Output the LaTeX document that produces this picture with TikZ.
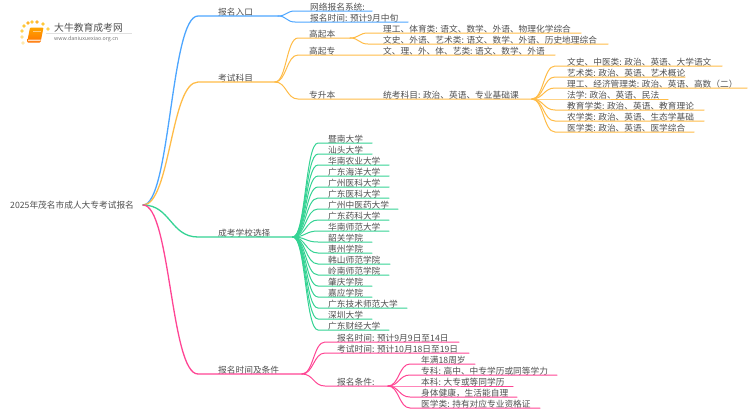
\documentclass[tikz,border=0pt]{standalone}
\usepackage{fontspec}
\setmainfont{Noto Sans CJK SC}
\usetikzlibrary{calc}
\definecolor{cblue}{HTML}{4DA6FF}
\definecolor{corange}{HTML}{FFBC47}
\definecolor{cgreen}{HTML}{35D394}
\definecolor{cpink}{HTML}{FF4594}
\definecolor{ctext}{HTML}{505050}
\tikzset{
  lbl/.style={anchor=west,inner sep=0pt,text=ctext,font=\fontsize{8.7}{10}\selectfont},
  conn/.style={line width=1pt,line cap=round},
  mainconn/.style={line width=1.3pt,line cap=round},
  logodot/.style={circle,fill=#1,inner sep=0pt,minimum size=3.8pt}
}
% #1 name, #2 parent, #3 flat x, #4 y, #5 end x, #6 text x, #7 text, #8 style
\newcommand{\lf}[8]{%
  \coordinate (#1s) at (#3,#4);
  \coordinate (#1e) at (#5,#4);
  \node[lbl] (#1) at (#6,#4-3.4) {#7};
  \draw[#8] (#2) .. controls ($(#2)!0.5!(#1s |- #2)$) and ($(#1s)!0.5!(#2 |- #1s)$) .. (#1s) -- (#1e);
}
\begin{document}
\begin{tikzpicture}[x=1pt,y=-1pt]
\useasboundingbox (0,0) rectangle (750,410);
\fill[white] (0,0) rectangle (750,410);
% logo
\foreach \n/\x/\y/\c in {d1/22/31/FFD24D,d2/24/26/FFC93A,d3/28/23/FFB52E,d4/32/22/FFC93A,d5/37/22/FFB52E,d6/43/24/FFC93A,d7/48/29/FFD24D,d8/22/37/FFE08A,d9/23/43/FFE9AE}{
  \definecolor{dotc}{HTML}{\c}
  \node[logodot=dotc] (\n) at (\x,\y) {};
}
\shade[rounded corners=1pt,top color=orange!70!yellow,bottom color=orange!90!red] (30,27.5) -- (43.5,27.5) -- (40.5,42.5) -- (27,42.5) -- cycle;
\fill[white,opacity=.75] (28.3,39.7) -- (40.8,39.7) -- (40.4,41.2) -- (28,41.2) -- cycle;
\draw[white,opacity=.5,line width=.5pt] (33,31) -- (40.5,31);
\node[inner sep=0pt,anchor=west,text=ctext,font=\fontsize{9.8}{11}\selectfont] (logotitle) at (54,28) {大牛教育成考网};
\draw[black!12,line width=.4pt] (46,33.3) -- (132,33.3);
\node[inner sep=0pt,anchor=west,text=black!55,font=\fontsize{5.3}{6}\selectfont] (logourl) at (54,39) {www.daniuxuexiao.org.cn};
% root
\node[lbl] (root) at (10,205.5) {2025年茂名市成人大专考试报名};
\coordinate (rj) at (143,205);
% blue
\lf{a}{rj}{198}{16}{278}{218}{报名入口}{mainconn,cblue}
\coordinate (aj) at (278,16);
\lf{a1}{aj}{295}{11}{372}{310}{网络报名系统:}{conn,cblue}
\lf{a2}{aj}{295}{22}{408}{310}{报名时间: 预计9月中旬}{conn,cblue}
% orange
\lf{b}{rj}{198}{82}{275}{218}{考试科目}{mainconn,corange}
\coordinate (bj) at (275,82);
\lf{b1}{bj}{298}{38}{350}{309}{高起本}{conn,corange}
\coordinate (b1j) at (350,38);
\lf{b11}{b1j}{368}{33}{581}{383}{理工、体育类: 语文、数学、外语、物理化学综合}{conn,corange}
\lf{b12}{b1j}{368}{44}{608}{383}{文史、外语、艺术类: 语文、数学、外语、历史地理综合}{conn,corange}
\lf{b2}{bj}{298}{55}{555}{309}{高起专}{conn,corange}
\node[lbl] (b21) at (383,51.6) {文、理、外、体、艺类: 语文、数学、外语};
\lf{b3}{bj}{298}{99}{532}{309}{专升本}{conn,corange}
\node[lbl] (b31) at (383,95.6) {统考科目: 政治、英语、专业基础课};
\coordinate (bk) at (532,99);
\foreach \n/\y/\e/\t in {c1/66/722/文史、中医类: 政治、英语、大学语文,
  c2/77/685/艺术类: 政治、英语、艺术概论,
  c3/88/747/理工、经济管理类: 政治、英语、高数（二）,
  c4/99/668/法学: 政治、英语、民法,
  c5/110/704/教育学类: 政治、英语、教育理论,
  c6/121/704/农学类: 政治、英语、生态学基础,
  c7/132/694/医学类: 政治、英语、医学综合}{
  \lf{\n}{bk}{555}{\y}{\e}{567}{\t}{conn,corange}
}
% green
\lf{g}{rj}{198}{237}{293}{218}{成考学校选择}{mainconn,cgreen}
\coordinate (gj) at (293,237);
\foreach \n/\y/\e/\t in {s1/143/372/暨南大学,s2/154/372/汕头大学,s3/165/389/华南农业大学,
  s4/176/389/广东海洋大学,s5/187/389/广州医科大学,s6/198/389/广东医科大学,
  s7/209/398/广州中医药大学,s8/220/389/广东药科大学,s9/231/389/华南师范大学,
  s10/242/372/韶关学院,s11/253/372/惠州学院,s12/264/390/韩山师范学院,
  s13/275/389/岭南师范学院,s14/286/372/肇庆学院,s15/297/372/嘉应学院,
  s16/308/407/广东技术师范大学,s17/319/372/深圳大学,s18/330/389/广东财经大学}{
  \lf{\n}{gj}{318}{\y}{\e}{328}{\t}{conn,cgreen}
}
% pink
\lf{p}{rj}{198}{374}{302}{218}{报名时间及条件}{mainconn,cpink}
\coordinate (pj) at (302,374);
\lf{p1}{pj}{325}{342}{459}{337}{报名时间: 预计9月9日至14日}{conn,cpink}
\lf{p2}{pj}{325}{353}{469}{337}{考试时间: 预计10月18日至19日}{conn,cpink}
\lf{p3}{pj}{325}{386}{388}{337}{报名条件:}{conn,cpink}
\coordinate (pk) at (388,386);
\foreach \n/\y/\e/\t in {q1/364/475/年满18周岁,
  q2/375/557/专科: 高中、中专学历或同等学力,
  q3/386/513/本科: 大专或等同学历,
  q4/397/517/身体健康，生活能自理,
  q5/408/540/医学类: 持有对应专业资格证}{
  \lf{\n}{pk}{410}{\y}{\e}{421}{\t}{conn,cpink}
}
\end{tikzpicture}
\end{document}
